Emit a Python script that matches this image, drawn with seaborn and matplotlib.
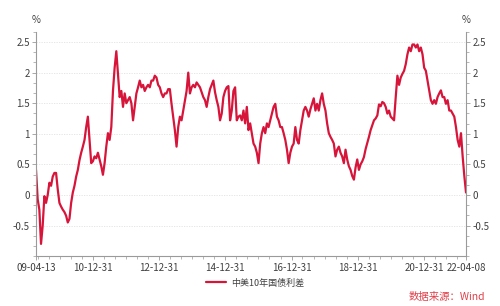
import numpy as np
import pandas as pd
import matplotlib
matplotlib.use("Agg")
import matplotlib.pyplot as plt
import matplotlib.dates as mdates
from matplotlib.ticker import MultipleLocator, FixedLocator
import seaborn as sns

# ---- data ----
start_date = "2009-04-13"
end_date = "2022-04-08"
spread = [
    0.41, -0.07, -0.24, -0.80, -0.50, -0.02, -0.13, 0.00, 0.20, 0.15,
    0.30, 0.36, 0.36, 0.09, -0.13, -0.19, -0.24, -0.28, -0.34, -0.45,
    -0.39, -0.13, 0.04, 0.15, 0.30, 0.41, 0.57, 0.69, 0.79, 0.90,
    1.11, 1.28, 0.90, 0.52, 0.55, 0.63, 0.60, 0.69, 0.58, 0.47,
    0.33, 0.52, 0.79, 1.01, 0.90, 1.11, 1.70, 2.08, 2.35, 1.98,
    1.60, 1.70, 1.44, 1.66, 1.50, 1.55, 1.60, 1.50, 1.22, 1.44,
    1.66, 1.76, 1.87, 1.76, 1.80, 1.70, 1.76, 1.80, 1.76, 1.87,
    1.87, 1.95, 1.92, 1.80, 1.76, 1.66, 1.60, 1.66, 1.66, 1.73,
    1.73, 1.49, 1.28, 1.06, 0.79, 1.11, 1.28, 1.22, 1.38, 1.55,
    1.70, 2.00, 1.66, 1.76, 1.80, 1.76, 1.84, 1.80, 1.76, 1.68,
    1.60, 1.55, 1.44, 1.60, 1.73, 1.80, 1.87, 1.68, 1.55, 1.44,
    1.22, 1.33, 1.60, 1.70, 1.76, 1.78, 1.22, 1.38, 1.70, 1.76,
    1.22, 1.28, 1.30, 1.22, 1.38, 1.17, 1.44, 1.06, 1.17, 1.01,
    0.84, 0.79, 0.69, 0.52, 0.84, 1.01, 1.11, 1.01, 1.17, 1.11,
    1.22, 1.33, 1.44, 1.49, 1.28, 1.22, 1.11, 1.11, 1.01, 0.90,
    0.74, 0.52, 0.69, 0.79, 0.84, 1.11, 0.90, 0.84, 1.06, 1.22,
    1.38, 1.44, 1.38, 1.28, 1.40, 1.49, 1.58, 1.38, 1.49, 1.38,
    1.55, 1.66, 1.49, 1.38, 1.17, 1.01, 0.95, 0.90, 0.84, 0.63,
    0.74, 0.79, 0.69, 0.63, 0.52, 0.74, 0.58, 0.47, 0.41, 0.31,
    0.25, 0.45, 0.58, 0.41, 0.50, 0.55, 0.62, 0.75, 0.85, 0.95,
    1.06, 1.14, 1.22, 1.25, 1.30, 1.48, 1.45, 1.52, 1.50, 1.44,
    1.33, 1.38, 1.28, 1.25, 1.22, 1.60, 1.95, 1.80, 1.92, 1.98,
    2.03, 2.14, 2.30, 2.41, 2.35, 2.46, 2.46, 2.41, 2.46, 2.35,
    2.41, 2.30, 2.08, 2.03, 1.87, 1.71, 1.55, 1.49, 1.55, 1.49,
    1.60, 1.66, 1.71, 1.60, 1.60, 1.49, 1.55, 1.38, 1.38, 1.33,
    1.28, 1.11, 0.90, 0.79, 1.01, 0.63, 0.31, 0.04,
]
dates = pd.date_range(start_date, end_date, periods=len(spread))
x_tick_dates = ["2009-04-13", "2010-12-31", "2012-12-31", "2014-12-31",
                "2016-12-31", "2018-12-31", "2020-12-31", "2022-04-08"]
x_tick_labels = ["09-04-13", "10-12-31", "12-12-31", "14-12-31",
                 "16-12-31", "18-12-31", "20-12-31", "22-04-08"]
y_ticks = [-0.5, 0, 0.5, 1, 1.5, 2, 2.5]
y_tick_labels = ["-0.5", "0", "0.5", "1", "1.5", "2", "2.5"]
series_name = "中美10年国债利差"
source_text = "数据来源：Wind"

df = pd.DataFrame({"date": dates, "value": spread})

# ---- style ----
sns.set_style("white")
plt.rcParams["font.family"] = ["Noto Sans CJK SC", "DejaVu Sans"]
line_color = "#D7153A"
axis_color = "#9a9a9a"
text_color = "#404040"

fig = plt.figure(figsize=(5.0, 3.06), dpi=100)
ax = fig.add_axes([0.072, 0.163, 0.86, 0.733])

sns.lineplot(data=df, x="date", y="value", ax=ax, color=line_color,
             linewidth=1.6, label=series_name, legend=False)

ax.set_xlim(pd.Timestamp(start_date), pd.Timestamp(end_date))
ax.set_ylim(-1.0, 2.667)

# y ticks on both sides
ax.yaxis.set_major_locator(FixedLocator(y_ticks))
ax.set_yticklabels(y_tick_labels)
ax.yaxis.set_minor_locator(MultipleLocator(0.5 / 3))
ax.tick_params(axis="y", which="major", left=True, right=True, labelleft=True,
               labelright=True, direction="out", length=3, width=0.6,
               color=axis_color, labelcolor=text_color, labelsize=7, pad=1.5)
ax.tick_params(axis="y", which="minor", left=True, right=True, direction="out",
               length=2, width=0.5, color=axis_color)

# x ticks
ax.xaxis.set_major_locator(FixedLocator(mdates.date2num(pd.to_datetime(x_tick_dates))))
ax.set_xticklabels(x_tick_labels)
ax.xaxis.set_minor_locator(mdates.MonthLocator(bymonth=[4, 8, 12], bymonthday=-1))
ax.tick_params(axis="x", which="major", bottom=True, direction="out", length=3,
               width=0.6, color=axis_color, labelcolor=text_color, labelsize=7, pad=2)
ax.tick_params(axis="x", which="minor", bottom=True, direction="out", length=2,
               width=0.5, color=axis_color)

# grid
ax.grid(False)
for yv in y_ticks:
    ax.axhline(yv, color="#e2e2e2", linewidth=0.6, linestyle=(0, (1.5, 1.5)), zorder=0)

for side in ["left", "right", "bottom"]:
    ax.spines[side].set_visible(True)
    ax.spines[side].set_color(axis_color)
    ax.spines[side].set_linewidth(0.8)
ax.spines["top"].set_visible(False)

ax.set_xlabel("")
ax.set_ylabel("")

fig.text(0.072, 0.935, "%", ha="center", va="center", fontsize=7, color=text_color)
fig.text(0.932, 0.935, "%", ha="center", va="center", fontsize=7, color=text_color)

handles, labels = ax.get_legend_handles_labels()
fig.legend(handles, labels, loc="center", bbox_to_anchor=(0.51, 0.075),
           frameon=False, fontsize=6.5, handlelength=2.2, handletextpad=0.5,
           labelcolor=text_color)

fig.text(0.97, 0.03, source_text, ha="right", va="center", fontsize=7.5,
         color="#E0404A")

fig.savefig("out.png", dpi=100)
